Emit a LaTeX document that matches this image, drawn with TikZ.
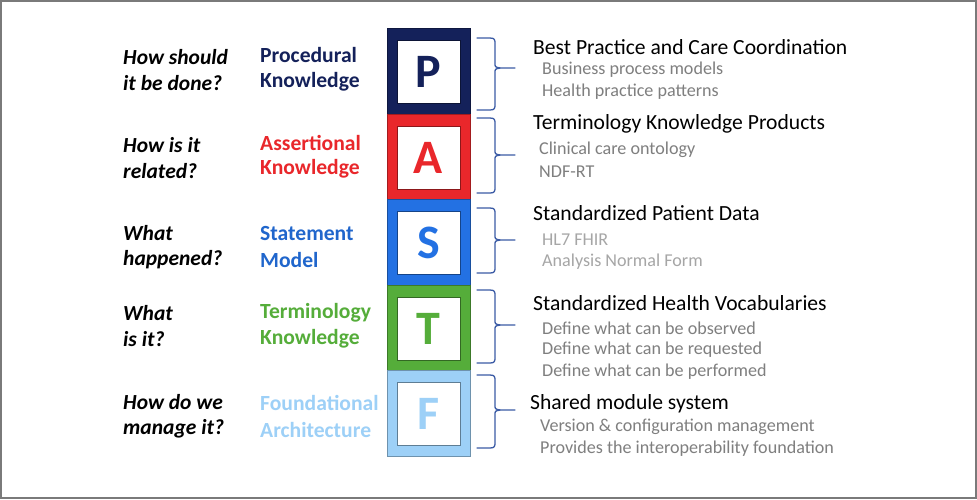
\documentclass[tikz,border=0pt]{standalone}
\usepackage{fontspec}
\setmainfont{Carlito}
\definecolor{cP}{HTML}{14215A}
\definecolor{cA}{HTML}{E9272B}
\definecolor{cS}{HTML}{2371E3}
\definecolor{cT}{HTML}{55AD3A}
\definecolor{cF}{HTML}{9DD0F7}
\definecolor{brc}{HTML}{3B5BA5}
\definecolor{subg}{HTML}{7F7F7F}
\definecolor{subl}{HTML}{A6A6A6}
\definecolor{frame}{HTML}{7A7A7A}
\tikzset{
  outerbox/.style={rectangle, minimum width=83pt, minimum height=85.5pt, inner sep=0pt, draw=#1!70!black, line width=0.6pt, fill=#1},
  innerbox/.style={rectangle, minimum width=63pt, minimum height=63pt, inner sep=0pt, fill=white, draw=#1!60!black, line width=0.5pt, text=#1, font=\fontsize{48}{48}\selectfont\bfseries},
  question/.style={anchor=west, inner sep=0pt, font=\fontsize{21.5}{21.5}\selectfont\bfseries\itshape, text=black},
  label/.style={anchor=west, inner sep=0pt, font=\fontsize{21.6}{21.6}\selectfont\bfseries, text=#1},
  title/.style={anchor=west, inner sep=0pt, font=\fontsize{21.6}{21.6}\selectfont, text=black},
  subitem/.style={anchor=west, inner sep=0pt, font=\fontsize{18.1}{18.1}\selectfont, text=#1},
  bracepath/.style={draw=brc, line width=1.3pt, line cap=round, line join=round}
}
\newcommand{\pastbrace}[3]{% top, mid, bottom
  \draw[bracepath] (477,#1) -- (490,#1) .. controls (495,#1) and (495,#1+2) .. (495,#1+6)
    -- (495,#2-5) .. controls (495,#2-1) .. (500,#2) -- (515,#2);
  \draw[bracepath] (477,#3) -- (490,#3) .. controls (495,#3) and (495,#3-2) .. (495,#3-6)
    -- (495,#2+5) .. controls (495,#2+1) .. (500,#2);
}
\begin{document}
\begin{tikzpicture}[x=1pt,y=-1pt]
\useasboundingbox (0,0) rectangle (977,499);
\fill[white] (0,0) rectangle (977,499);
\draw[frame, line width=2pt] (1,1) rectangle (976,498);

% boxes
\node[outerbox=cP] (Po) at (428.5,71.5) {};
\node[innerbox=cP] (P) at (428.5,71.5) {P};
\node[outerbox=cA] (Ao) at (428.5,157) {};
\node[innerbox=cA] (A) at (428.5,157.5) {A};
\node[outerbox=cS] (So) at (428.5,242.5) {};
\node[innerbox=cS] (S) at (428.5,243) {S};
\node[outerbox=cT] (To) at (428.5,328) {};
\node[innerbox=cT] (T) at (428.5,328.5) {T};
\node[outerbox=cF] (Fo) at (428.5,413.5) {};
\node[innerbox=cF] (F) at (428.5,413.5) {F};

% questions
\node[question] (q1a) at (123,57) {How should};
\node[question] (q1b) at (123,83) {it be done?};
\node[question] (q2a) at (123,145) {How is it};
\node[question] (q2b) at (123,171) {related?};
\node[question] (q3a) at (123,233) {What};
\node[question] (q3b) at (123,260) {happened?};
\node[question] (q4a) at (123,313) {What};
\node[question] (q4b) at (123,339) {is it?};
\node[question] (q5a) at (123,402) {How do we};
\node[question] (q5b) at (123,429) {manage it?};

% layer labels
\node[label=cP] (l1a) at (260,55) {Procedural};
\node[label=cP] (l1b) at (260,82) {Knowledge};
\node[label=cA] (l2a) at (260,143) {Assertional};
\node[label=cA] (l2b) at (260,169) {Knowledge};
\node[label=cS!90!black] (l3a) at (260,233) {Statement};
\node[label=cS!90!black] (l3b) at (260,260) {Model};
\node[label=cT] (l4a) at (260,313) {Terminology};
\node[label=cT] (l4b) at (260,339) {Knowledge};
\node[label=cF] (l5a) at (260,403) {Foundational};
\node[label=cF] (l5b) at (260,430) {Architecture};

% braces
\pastbrace{38}{68}{110}
\pastbrace{118}{155}{193}
\pastbrace{208}{240}{273}
\pastbrace{290}{325}{363}
\pastbrace{375}{410}{448}

% right texts
\node[title] (t1) at (533,47) {Best Practice and Care Coordination};
\node[subitem=subg] (s11) at (542,70) {Business process models};
\node[subitem=subg] (s12) at (542,92) {Health practice patterns};

\node[title] (t2) at (533,124) {Terminology Knowledge Products};
\node[subitem=subg] (s21) at (539,150) {Clinical care ontology};
\node[subitem=subg] (s22) at (539,172) {NDF-RT};

\node[title] (t3) at (533,213) {Standardized Patient Data};
\node[subitem=subl] (s31) at (542,240) {HL7 FHIR};
\node[subitem=subl] (s32) at (542,262) {Analysis Normal Form};

\node[title] (t4) at (533,303) {Standardized Health Vocabularies};
\node[subitem=subg] (s41) at (542,328) {Define what can be observed};
\node[subitem=subg] (s42) at (542,350) {Define what can be requested};
\node[subitem=subg] (s43) at (542,372) {Define what can be performed};

\node[title] (t5) at (530,404) {Shared module system};
\node[subitem=subg] (s51) at (540,427) {Version \& configuration management};
\node[subitem=subg] (s52) at (540,449) {Provides the interoperability foundation};
\end{tikzpicture}
\end{document}
